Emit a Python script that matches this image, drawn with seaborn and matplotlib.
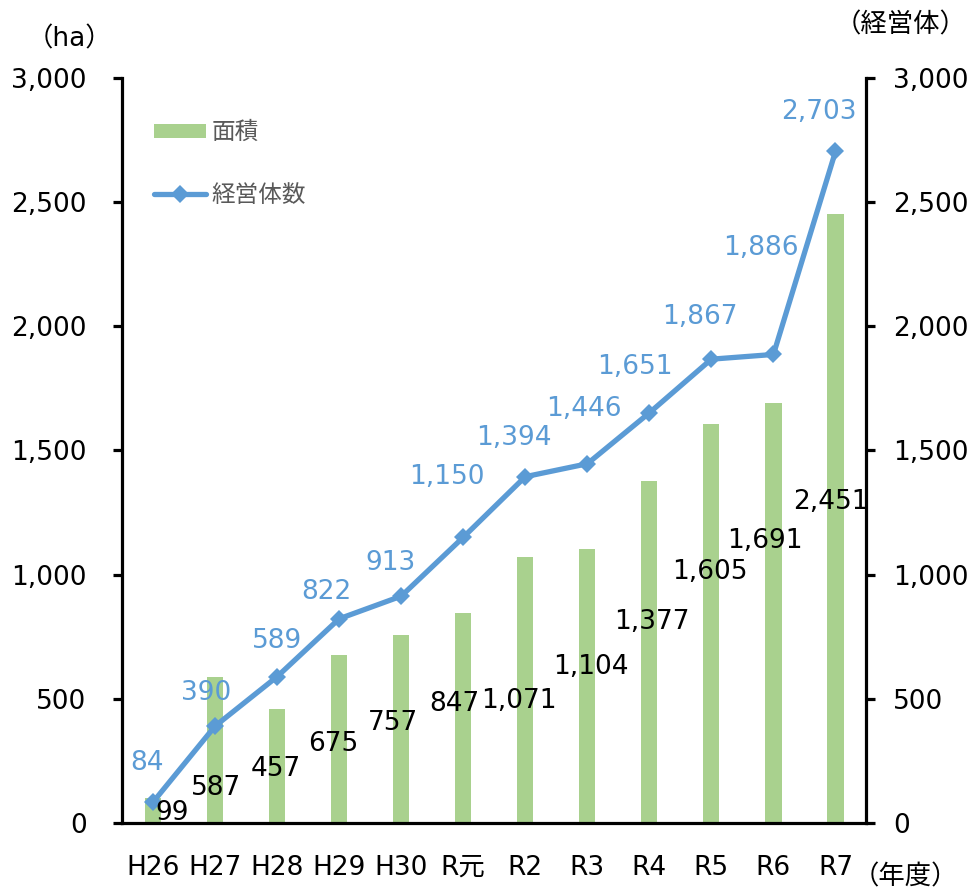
import numpy as np
import pandas as pd
import matplotlib
matplotlib.use("Agg")
import matplotlib.pyplot as plt
from matplotlib.lines import Line2D
from matplotlib.patches import Patch
from matplotlib.ticker import FuncFormatter
import seaborn as sns

# ---- data ----
categories = ["H26", "H27", "H28", "H29", "H30", "R元", "R2", "R3", "R4", "R5", "R6", "R7"]
area_ha = [99, 587, 457, 675, 757, 847, 1071, 1104, 1377, 1605, 1691, 2451]
farm_count = [84, 390, 589, 822, 913, 1150, 1394, 1446, 1651, 1867, 1886, 2703]
yticks = [0, 500, 1000, 1500, 2000, 2500, 3000]

# ---- label placement (x offset in category units, y position in data units) ----
bar_label_dx = [0.30, 0.02, -0.02, -0.10, -0.13, -0.15, -0.11, 0.06, 0.04, -0.03, -0.13, -0.08]
bar_label_y = [41, 140, 217, 317, 402, 477, 491, 627, 808, 1009, 1135, 1293]
line_label_dx = [-0.10, -0.15, 0.0, -0.21, -0.18, -0.26, -0.19, -0.06, -0.23, -0.19, -0.21, -0.27]
line_label_y = [242, 523, 734, 931, 1045, 1394, 1548, 1665, 1835, 2038, 2314, 2861]

GREEN = "#A9D18E"
BLUE = "#5B9BD5"
FS = 19

sns.set_theme(style="white", rc={"text.color": "black", "xtick.color": "black",
                                 "ytick.color": "black", "axes.labelcolor": "black"})
plt.rcParams["font.family"] = ["DejaVu Sans", "Noto Sans CJK JP"]

df = pd.DataFrame({"年度": categories, "面積": area_ha, "経営体数": farm_count})
xpos = np.arange(len(categories))

fig = plt.figure(figsize=(9.69, 8.9), dpi=100)
ax = fig.add_axes([122 / 969, 1 - 823 / 890, (866.5 - 122) / 969, (823 - 77.7) / 890])

sns.barplot(data=df, x="年度", y="面積", color=GREEN, saturation=1, width=0.26,
            linewidth=0, ax=ax)
ax.set_xlim(-0.5, len(categories) - 0.5)
ax.set_ylim(0, 3000)
ax.set_xlabel("")
ax.set_ylabel("")

ax2 = ax.twinx()
sns.lineplot(x=xpos, y=farm_count, color=BLUE, linewidth=3.8, marker="D",
             markersize=9, markeredgewidth=0, ax=ax2)
ax2.set_ylim(0, 3000)
ax2.set_xlim(-0.5, len(categories) - 0.5)

fmt = FuncFormatter(lambda v, p: f"{int(v):,}")
for a in (ax, ax2):
    a.set_yticks(yticks)
    a.yaxis.set_major_formatter(fmt)
    a.grid(False)
    for s in a.spines.values():
        s.set_visible(False)
    a.set_facecolor("none")

ax.spines["left"].set_visible(True)
ax.spines["bottom"].set_visible(True)
ax2.spines["right"].set_visible(True)
for s in (ax.spines["left"], ax.spines["bottom"], ax2.spines["right"]):
    s.set_color("black")
    s.set_linewidth(2.3)

ax.tick_params(axis="y", direction="out", length=6.5, width=2.3, color="black",
               labelsize=FS, labelcolor="black", pad=19, left=True)
ax2.tick_params(axis="y", direction="out", length=6.5, width=2.3, color="black",
                labelsize=FS, labelcolor="black", pad=12.5, right=True)
ax.tick_params(axis="x", length=0, labelsize=FS, labelcolor="black", pad=23)
ax.set_xticks(xpos)
ax.set_xticklabels(categories)
ax2.tick_params(axis="x", bottom=False, labelbottom=False)

# data labels
for i, v in enumerate(area_ha):
    ax2.text(i + bar_label_dx[i], bar_label_y[i], f"{v:,}", ha="center", va="center",
             fontsize=FS, color="black", zorder=5)
for i, v in enumerate(farm_count):
    ax2.text(i + line_label_dx[i], line_label_y[i], f"{v:,}", ha="center", va="center",
             fontsize=FS, color=BLUE, zorder=5)

# legend
handles = [Patch(facecolor=GREEN, edgecolor="none"),
           Line2D([0], [0], color=BLUE, linewidth=3.8, marker="D", markersize=9,
                  markeredgewidth=0)]
leg = ax2.legend(handles, ["面積", "経営体数"], loc="upper left",
                 bbox_to_anchor=((154 - 122) / 744.5, (823 - 120) / 745.3),
                 frameon=False, fontsize=17, handlelength=2.2, handleheight=0.55,
                 handletextpad=0.25, labelspacing=1.65, borderpad=0, borderaxespad=0)
for t in leg.get_texts():
    t.set_color("#595959")

# axis unit labels
fig.text(69 / 969, 1 - 39 / 890, "（ha）", ha="center", va="center", fontsize=FS)
fig.text(967 / 969, 1 - 25 / 890, "（経営体）", ha="right", va="center", fontsize=FS)
fig.text(905 / 969, 1 - 877 / 890, "（年度）", ha="center", va="center", fontsize=FS)

fig.savefig("out.png", dpi=100)
